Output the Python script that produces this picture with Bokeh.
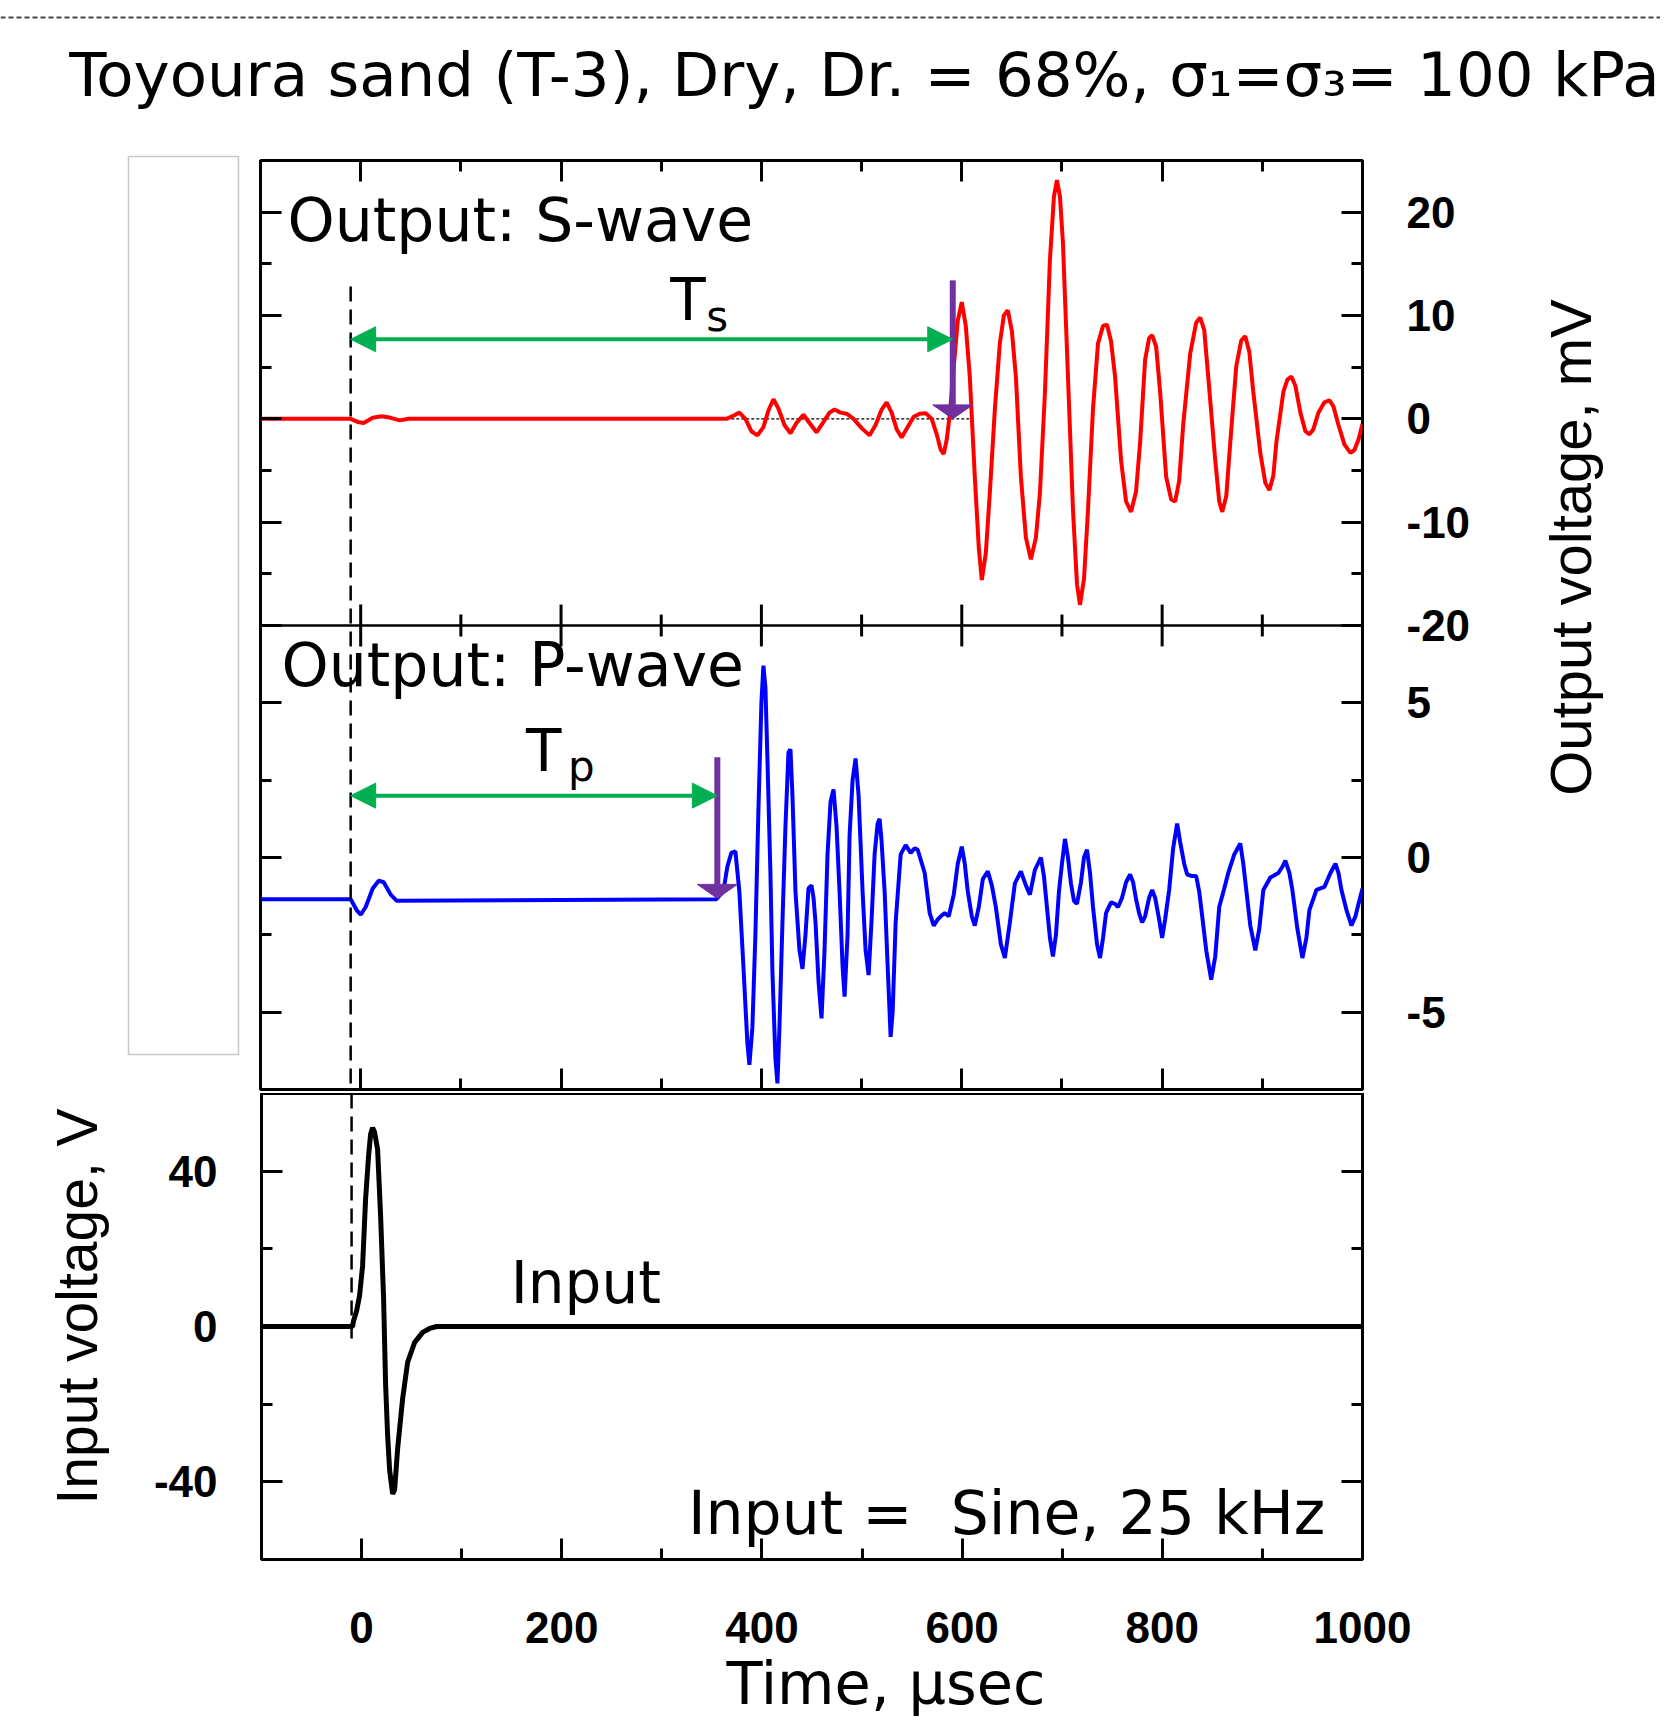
import numpy as np
from bokeh.plotting import figure
from bokeh.layouts import column, row
from bokeh.models import (Range1d, LinearAxis, FixedTicker, Span, Arrow, NormalHead, Title,
                          CustomLabelingPolicy)
from bokeh.core.properties import value
from bokeh.embed import file_html
from bokeh.resources import INLINE

# ---------------- data ----------------
s_time = [-100, -10, -3, 3, 12, 21, 30, 39, 48, 365, 372, 378, 384, 390, 396, 402, 407, 412, 417, 423,
          429, 435, 442, 448, 455, 462, 468, 473, 479, 485, 492, 500, 508, 514, 520, 525, 530, 535, 540,
          546, 552, 558, 564, 570, 575, 579, 582, 585, 588, 592, 596, 600, 604, 608, 613, 617, 620, 624,
          628, 633, 638, 642, 646, 650, 654, 659, 664, 669, 674, 678, 683, 688, 692, 695, 698, 701, 706,
          711, 715, 718, 722, 726, 731, 736, 741, 745, 749, 753, 759, 764, 769, 774, 778, 783, 787, 790,
          794, 798, 804, 809, 813, 817, 821, 828, 834, 838, 842, 846, 853, 857, 860, 864, 868, 874, 879,
          883, 887, 891, 898, 903, 907, 911, 914, 921, 925, 929, 933, 938, 943, 947, 951, 956, 962, 967,
          971, 976, 982, 988, 992, 996, 1000]
s_volt = [0, 0, -0.3, -0.4, 0.1, 0.25, 0.1, -0.15, 0, 0, 0.3, 0.6, 0.0, -1.2, -1.6, -0.8, 0.8, 1.9, 1.0, -0.6,
          -1.4, -0.4, 0.4, -0.4, -1.3, -0.3, 0.6, 0.9, 0.6, 0.5, 0.0, -0.9, -1.6, -0.6, 0.9, 1.6, 0.6, -1.0, -1.8,
          -0.8, 0.2, 0.5, 0.55, 0.0, -1.5, -3.0, -3.4, -2.0, 0.4, 5.0, 9.5, 11.3, 9.0, 4.1, -5.6, -12.5, -15.6, -13.0,
          -7.2, 0.9, 7.3, 10.0, 10.5, 8.5, 4.1, -5.6, -11.5, -13.6, -11.5, -7.2, 2.5, 15.4, 21.5, 23.1, 21.5, 17.0, 4.1,
          -8.8, -16.0, -18.0, -15.5, -8.8, 1.0, 7.3, 9.0, 9.1, 7.5, 4.1, -4.0, -8.0, -9.0, -7.0, -2.3, 5.7, 7.8, 8.1,
          7.0, 2.6, -5.6, -7.8, -8.0, -6.0, -0.6, 6.3, 9.3, 9.8, 8.6, 4.1, -4.0, -8.0, -9.0, -7.5, -2.3, 5.1, 7.6,
          8.0, 6.5, 2.6, -3.3, -6.2, -6.9, -5.5, -2.3, 2.6, 3.8, 4.1, 3.2, 0.6, -1.2, -1.5, -1.0, 0.6, 1.6, 1.8,
          1.2, -0.6, -2.5, -3.3, -3.0, -2.0, -0.5]

p_time = [-100, -10, -4, 0, 5, 12, 18, 23, 30, 36, 355, 362, 366, 370, 374, 378, 382, 386, 388, 391, 394,
          397, 400, 402, 404, 406, 409, 411, 414, 416, 418, 421, 424, 427, 429, 431, 434, 438, 441, 444, 447,
          450, 452, 454, 457, 460, 463, 466, 469, 472, 475, 478, 481, 483, 486, 488, 491, 494, 497, 501, 504,
          507, 510, 513, 516, 518, 520, 523, 526, 529, 531, 534, 539, 544, 549, 553, 556, 563, 568, 572, 576,
          579, 583, 587, 592, 596, 600, 603, 606, 610, 613, 617, 621, 626, 630, 634, 639, 643, 648, 653, 659,
          664, 668, 673, 679, 682, 685, 688, 691, 694, 697, 700, 703, 706, 709, 712, 715, 719, 722, 725, 728,
          731, 735, 738, 741, 744, 749, 753, 756, 760, 764, 768, 771, 774, 777, 780, 783, 787, 790, 793, 797,
          800, 803, 807, 811, 815, 818, 822, 825, 830, 834, 837, 840, 844, 849, 853, 857, 862, 866, 872, 878,
          881, 884, 888, 893, 897, 901, 908, 916, 920, 923, 927, 930, 935, 940, 944, 947, 954, 962, 968, 973,
          976, 979, 984, 989, 993, 996, 1000]
p_volt = [-1.35, -1.35, -1.7, -1.85, -1.6, -1.0, -0.75, -0.8, -1.2, -1.4, -1.35, -1.1, -0.3, 0.15, 0.2, -1.1,
          -3.5, -6.0, -6.7, -5.5, -2.5, 1.5, 5.0, 6.2, 5.5, 3.2, -0.5, -3.7, -6.5, -7.3, -5.5, -2.1, 1.0, 3.4, 3.5,
          2.0, -1.1, -3.0, -3.6, -2.5, -1.0, -0.9, -1.3, -2.1, -4.0, -5.2, -3.0, 0.1, 1.8, 2.2, 1.0, -1.1, -3.5,
          -4.5, -2.5, 0.7, 2.5, 3.2, 2.0, -1.1, -3.0, -3.8, -2.0, 0.1, 1.1, 1.25, 0.5, -1.1, -3.5, -5.8, -5.0, -2.1,
          0.1, 0.4, 0.15, 0.3, 0.25, -0.5, -1.8, -2.2, -2.0, -1.9, -1.8, -1.9, -1.2, -0.2, 0.35, -0.2, -1.1, -1.9,
          -2.2, -1.6, -0.7, -0.45, -0.9, -1.6, -2.8, -3.25, -2.1, -0.84, -0.45, -0.9, -1.2, -0.4, 0.0, -0.6, -1.6,
          -2.6, -3.2, -2.5, -1.1, -0.2, 0.6, 0.0, -0.84, -1.4, -1.5, -0.8, 0.0, 0.25, -0.5, -1.6, -2.8, -3.25, -2.6,
          -1.8, -1.45, -1.5, -1.6, -1.3, -0.8, -0.55, -0.8, -1.35, -1.8, -2.1, -1.9, -1.3, -1.05, -1.3, -2.0, -2.6,
          -2.0, -1.05, 0.3, 1.1, 0.5, -0.2, -0.55, -0.6, -0.6, -1.1, -1.9, -3.0, -3.95, -3.2, -1.6, -1.0, -0.5, 0.1,
          0.45, -0.2, -1.05, -2.2, -3.0, -2.3, -1.05, -0.65, -0.5, -0.3, -0.1, -0.5, -1.05, -2.3, -3.25, -2.6, -1.7,
          -1.05, -0.95, -0.5, -0.2, -0.5, -1.05, -1.7, -2.2, -1.9, -1.5, -1.0]

in_time = [-100, -9, -8, -5, -2, 1, 4, 7, 9, 11, 13, 16, 19, 22, 24, 26, 28, 31, 33, 36, 41, 46, 53, 61, 68, 75, 1000]
in_volt = [0, 0, 1.5, 4.0, 8.0, 15.6, 32.8, 44.0, 49.5, 51.2, 50.0, 45.6, 28.5, 7.0, -15.0, -28.0, -37.0, -43.1,
           -42.0, -31.5, -18.6, -9.2, -4.1, -1.5, -0.5, 0, 0]

x_ticks = [0, 200, 400, 600, 800, 1000]
x_minor = [-100, 100, 300, 500, 700, 900]
s_ticks = [-20, -10, 0, 10, 20]
s_minor = [-15, -5, 5, 15]
p_ticks = [-5, 0, 5]
p_minor = [-2.5, 2.5]
in_ticks = [-40, 0, 40]
in_minor = [-60, -20, 20, 60]

trigger_t = -10            # start of the travel-time arrows (dashed line)
s_arrival_t, s_arrow_top, s_arrow_tip, s_dim_y = 591, 13.4, 0.0, 7.7
p_arrival_t, p_arrow_top, p_arrow_tip, p_dim_y = 356, 3.24, -1.32, 2.0
s_baseline_t = [330, 608]

# ---------------- styling / geometry ----------------
FONT = "DejaVu Sans"
LABFONT = "Liberation Sans"
TICKFONT = "Liberation Sans"
RED, BLUE, GREEN, PURPLE = "#ff0000", "#0000ff", "#00b050", "#7030a0"
X_RANGE = (-100, 1000)
S_LO, S_HI = -20, 25
P_LO, P_HI = -7.5, 7.5
IN_LO, IN_HI = -60, 60
FRAME_W = 1102
H_S, H_P, H_IN = 467, 466, 466
PX_X = FRAME_W / (X_RANGE[1] - X_RANGE[0])
PX_S = H_S / (S_HI - S_LO)
PX_P = H_P / (P_HI - P_LO)
PX_IN = H_IN / (IN_HI - IN_LO)
BASE_SHIFT = 0.33          # baseline correction of the svg text, in em
NO_LABELS = CustomLabelingPolicy(code="return []")


def p_to_s(v):
    """position of a P-panel value expressed on the S-panel scale (shared frame)"""
    return S_LO - (P_HI - v) * PX_P / PX_S


def style_axis(ax, ticks, minor, labels=False, standoff=44, overrides=None):
    ax.ticker = FixedTicker(ticks=ticks, minor_ticks=minor)
    ax.axis_line_color = None
    ax.major_tick_in = 21
    ax.major_tick_out = 0
    ax.minor_tick_in = 11
    ax.minor_tick_out = 0
    ax.major_tick_line_width = 3
    ax.minor_tick_line_width = 3
    ax.major_tick_line_color = "black"
    ax.minor_tick_line_color = "black"
    if labels:
        ax.major_label_text_font = TICKFONT
        ax.major_label_text_font_size = "44px"
        ax.major_label_text_font_style = "bold"
        ax.major_label_text_color = "black"
        ax.major_label_standoff = standoff
        if overrides:
            ax.major_label_overrides = overrides
    else:
        ax.major_label_policy = NO_LABELS
        ax.major_label_text_font_size = "1px"
        ax.major_label_standoff = 0


def text(f, x, y, s, px_y, size=60, **kw):
    f.text(x=[x], y=[y + BASE_SHIFT * size / px_y], text=[s], text_font=value(FONT),
           text_font_size=f"{size}px", text_align="left", text_baseline="alphabetic",
           text_color="black", **kw)


def purple_arrow(f, t, top, tip, px_y, **kw):
    head_w, head_h = 40, 14
    dx = (head_w / 2) / PX_X
    dy = head_h / px_y
    f.segment(x0=[t], y0=[top], x1=[t], y1=[tip + dy], line_color=PURPLE, line_width=6, **kw)
    f.patch([t - dx, t + dx, t], [tip + dy, tip + dy, tip], fill_color=PURPLE, line_color=PURPLE, **kw)


def green_arrow(f, x0, x1, y, **kw):
    f.add_layout(Arrow(start=NormalHead(size=25, fill_color=GREEN, line_color=GREEN),
                       end=NormalHead(size=25, fill_color=GREEN, line_color=GREEN),
                       x_start=x0, y_start=y, x_end=x1, y_end=y, line_color=GREEN, line_width=4, **kw))


def no_align(f):
    try:
        f.frame_align = False
    except Exception:
        pass


# ---------------- header ----------------
header = figure(width=1660, height=155, x_range=Range1d(0, 1660), y_range=Range1d(0, 155),
                x_axis_type=None, y_axis_type=None, toolbar_location=None, output_backend="svg",
                min_border=0, outline_line_color=None)
no_align(header)
header.add_layout(Span(location=138, dimension="width", line_color="#444444", line_width=2, line_dash="5 3"))
header.text(x=[864], y=[61 + BASE_SHIFT * 61], text=["Toyoura sand (T-3), Dry, Dr. = 68%, σ₁=σ₃= 100 kPa"],
            text_font=value(FONT), text_font_size="61px", text_align="center", text_baseline="alphabetic")

# ---------------- empty grey frame on the left ----------------
box = figure(width=250, height=938, x_range=Range1d(0, 1), y_range=Range1d(0, 1),
             x_axis_type=None, y_axis_type=None, toolbar_location=None, output_backend="svg",
             min_border_left=128, min_border_right=12, min_border_top=1, min_border_bottom=39)
no_align(box)
box.outline_line_color = "#c8c8c8"
box.outline_line_width = 1.5

# ---------------- output panels (S-wave above, P-wave below, one shared frame) ----------------
s_range = Range1d(S_HI - (S_HI - S_LO) * (H_S + H_P) / H_S, S_HI)
p_range = Range1d(P_LO, P_LO + (P_HI - P_LO) * (H_S + H_P) / H_P)
fo = figure(width=1234, height=938, x_range=Range1d(*X_RANGE), y_range=s_range,
            x_axis_type=None, y_axis_type=None, toolbar_location=None, output_backend="svg",
            min_border_left=10, min_border_right=122, min_border_top=5, min_border_bottom=0)
fo.extra_y_ranges = {"p": p_range}
fo.outline_line_color = "black"
fo.outline_line_width = 3

for side in ("above", "below"):
    ax = LinearAxis()
    style_axis(ax, x_ticks, x_minor)
    fo.add_layout(ax, side)

out_ticks = s_ticks + [p_to_s(v) for v in p_ticks]
out_minor = s_minor + [p_to_s(v) for v in p_minor]
out_labels = {t: str(t) for t in s_ticks}
out_labels.update({p_to_s(v): str(v) for v in p_ticks})
axl = LinearAxis()
style_axis(axl, out_ticks, out_minor)
fo.add_layout(axl, "left")
axr = LinearAxis()
style_axis(axr, out_ticks, out_minor, labels=True, standoff=44, overrides=out_labels)
fo.add_layout(axr, "right")

# boundary between the two output panels, with its inward ticks
fo.add_layout(Span(location=S_LO, dimension="width", line_color="black", line_width=2.5))
maj_len, min_len = 21 / PX_S, 11 / PX_S
fo.segment(x0=x_ticks, y0=[S_LO - maj_len] * len(x_ticks), x1=x_ticks, y1=[S_LO + maj_len] * len(x_ticks),
           line_color="black", line_width=3)
fo.segment(x0=x_minor, y0=[S_LO - min_len] * len(x_minor), x1=x_minor, y1=[S_LO + min_len] * len(x_minor),
           line_color="black", line_width=3)

# S-wave
fo.line(s_baseline_t, [0, 0], line_color="black", line_width=1.2, line_dash="3 2")
fo.line(s_time, s_volt, line_color=RED, line_width=4)
green_arrow(fo, trigger_t, s_arrival_t, s_dim_y)
purple_arrow(fo, s_arrival_t, s_arrow_top, s_arrow_tip, PX_S)
text(fo, -73, 17.36, "Output: S-wave", PX_S)
text(fo, 309, 9.65, "T", PX_S, size=58)
text(fo, 345, 8.6, "s", PX_S, size=42)

# P-wave
fo.line(p_time, p_volt, line_color=BLUE, line_width=4, y_range_name="p")
green_arrow(fo, trigger_t, p_arrival_t, p_dim_y, y_range_name="p")
purple_arrow(fo, p_arrival_t, p_arrow_top, p_arrow_tip, PX_P, y_range_name="p")
text(fo, -79, 5.58, "Output: P-wave", PX_P, y_range_name="p")
text(fo, 165, 2.84, "T", PX_P, size=58, y_range_name="p")
text(fo, 207, 2.48, "p", PX_P, size=42, y_range_name="p")

# trigger line
fo.segment(x0=[trigger_t], y0=[12.8], x1=[trigger_t], y1=[s_range.start], line_color="black",
           line_width=2.5, line_dash="15 8")

# ---------------- right label ----------------
lab = figure(width=176, height=938, x_range=Range1d(0, 176), y_range=Range1d(0, 938),
             x_axis_type=None, y_axis_type=None, toolbar_location=None, output_backend="svg",
             min_border=0, outline_line_color=None)
no_align(lab)
lab.text(x=[86], y=[546], text=["Output voltage, mV"], angle=np.pi / 2, text_font=value(LABFONT),
         text_font_size="58px", text_align="center", text_baseline="alphabetic")

# ---------------- input panel ----------------
fi = figure(width=1660, height=639, x_range=Range1d(*X_RANGE), y_range=Range1d(IN_LO, IN_HI),
            x_axis_type=None, y_axis_type=None, toolbar_location=None, output_backend="svg",
            min_border_left=260, min_border_right=298, min_border_top=0, min_border_bottom=173)
fi.outline_line_color = "black"
fi.outline_line_width = 3
axb = LinearAxis()
style_axis(axb, x_ticks, x_minor, labels=True, standoff=52)
fi.add_layout(axb, "below")
axl = LinearAxis()
style_axis(axl, in_ticks, in_minor, labels=True, standoff=44, overrides={-40: "-40"})
fi.add_layout(axl, "left")
fi.add_layout(Title(text="Input voltage, V", align="left", offset=55, text_font=LABFONT,
                    text_font_size="57px", text_font_style="normal", text_color="black",
                    standoff=84), "left")
axr = LinearAxis()
style_axis(axr, in_ticks, in_minor)
fi.add_layout(axr, "right")
fi.add_layout(Title(text="Time, µsec", align="left", offset=465, text_font=FONT, text_font_size="59px",
                    text_font_style="normal", text_color="black", standoff=3), "below")

fi.line(in_time, in_volt, line_color="black", line_width=5)
fi.segment(x0=[trigger_t], y0=[IN_HI], x1=[trigger_t], y1=[-4.3], line_color="black", line_width=2.5,
           line_dash="15 8")
text(fi, 149, 6.3, "Input", PX_IN, size=58)
text(fi, 326, -53.2, "Input = \u00a0Sine, 25 kHz", PX_IN, size=60)

layout = column(row(header), row(box, column(fo), lab), fi)
open("out.html", "w").write(file_html(layout, INLINE))
